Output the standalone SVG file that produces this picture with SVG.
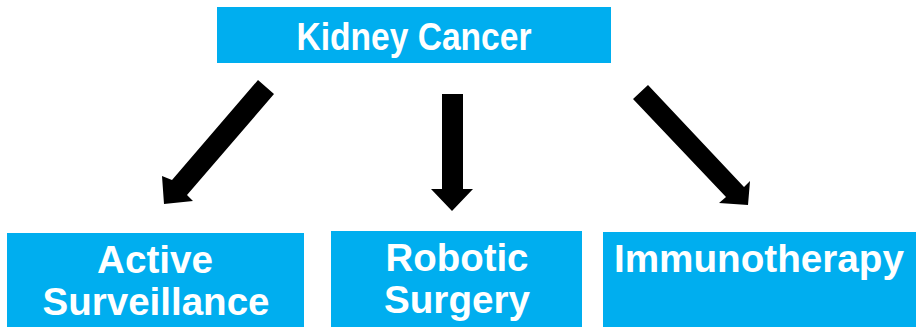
<svg xmlns="http://www.w3.org/2000/svg" width="916" height="327" viewBox="0 0 916 327">
<style>
.box{fill:#00AEEF}
.lbl{font-family:"Liberation Sans",Arial,Helvetica,sans-serif;font-weight:bold;fill:#FFFFFF;font-size:38px}
.arrow{fill:#000000}
</style>
<rect width="916" height="327" fill="#FFFFFF"/>
<g id="kidney-cancer">
<rect class="box" x="217" y="7" width="394" height="56"/>
<text class="lbl" x="414" y="50" text-anchor="middle" font-size="36" textLength="235" lengthAdjust="spacingAndGlyphs">Kidney Cancer</text>
</g>
<g id="connectors">
<polygon class="arrow" points="258,80 274,94 187,195 193,201 164,204 162,176 172,180"/>
<polygon class="arrow" points="442,94 463,94 463,189 473,189 452,211 431,189 442,189"/>
<polygon class="arrow" points="633,99 648,85 744,187 750,181 748,205 719,203 726,197"/>
</g>
<g id="active-surveillance">
<rect class="box" x="7" y="233" width="297" height="94"/>
<text class="lbl" x="155" y="273" text-anchor="middle" textLength="116" lengthAdjust="spacingAndGlyphs">Active</text>
<text class="lbl" x="156" y="315" text-anchor="middle" textLength="227" lengthAdjust="spacingAndGlyphs">Surveillance</text>
</g>
<g id="robotic-surgery">
<rect class="box" x="331" y="231" width="251" height="96"/>
<text class="lbl" x="457" y="271" text-anchor="middle" textLength="143" lengthAdjust="spacingAndGlyphs">Robotic</text>
<text class="lbl" x="457" y="313" text-anchor="middle" textLength="146" lengthAdjust="spacingAndGlyphs">Surgery</text>
</g>
<g id="immunotherapy">
<rect class="box" x="603" y="232" width="313" height="95"/>
<text class="lbl" x="614" y="272" textLength="290" lengthAdjust="spacingAndGlyphs">Immunotherapy</text>
</g>
</svg>
